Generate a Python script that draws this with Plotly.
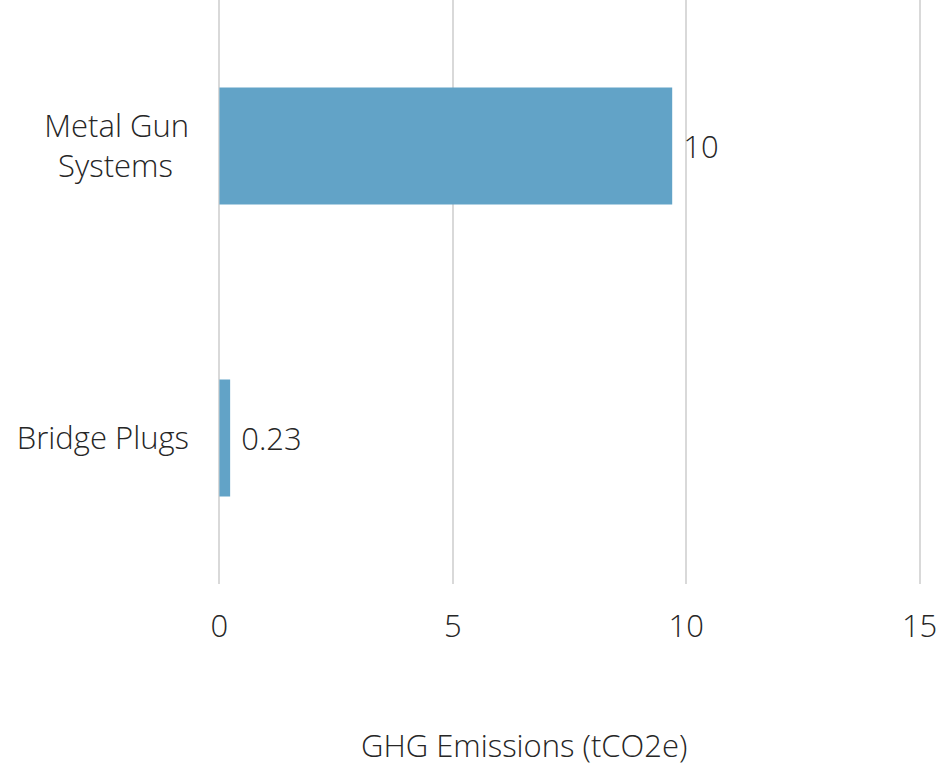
import plotly.graph_objects as go

categories = ["Bridge Plugs", "Metal Gun Systems"]
category_ticktext = ["Bridge Plugs", "Metal Gun<br>Systems\u00a0\u00a0"]
values = [0.23, 9.7]
labels = ["0.23", "10"]
x_ticks = [0, 5, 10, 15]
x_title = "GHG Emissions (tCO2e)"

FONT = "Open Sans"
TXT = "#262626"
F = dict(family=FONT, size=31, color=TXT, weight=300)

fig = go.Figure(go.Bar(
    y=categories, x=values, orientation="h",
    marker=dict(color="#62A3C7", line=dict(width=0)),
    width=0.4,
    text=labels, texttemplate="\u00a0%{text}", textposition="outside", cliponaxis=False,
    textfont=F,
))

fig.update_layout(
    width=939, height=767,
    margin=dict(l=218, r=18, t=0, b=183),
    paper_bgcolor="white", plot_bgcolor="white",
    showlegend=False,
    font=F,
    xaxis=dict(
        range=[-0.03, 15.03], tickvals=x_ticks, showgrid=True, gridcolor="#D9D9D9", gridwidth=2,
        zeroline=True, zerolinecolor="#D9D9D9", zerolinewidth=2, showline=False, ticks="",
        ticklabelstandoff=21,
        tickfont=F,
    ),
    yaxis=dict(
        showgrid=False, zeroline=False, showline=False, ticks="",
        ticklabelstandoff=28,
        tickvals=categories, ticktext=category_ticktext,
        tickfont=F,
    ),
    annotations=[dict(
        text=x_title, xref="paper", yref="paper", x=0.435, y=-0.313,
        xanchor="center", yanchor="bottom", showarrow=False, font=F, borderpad=0,
    )],
)

fig.write_html("out.html")
